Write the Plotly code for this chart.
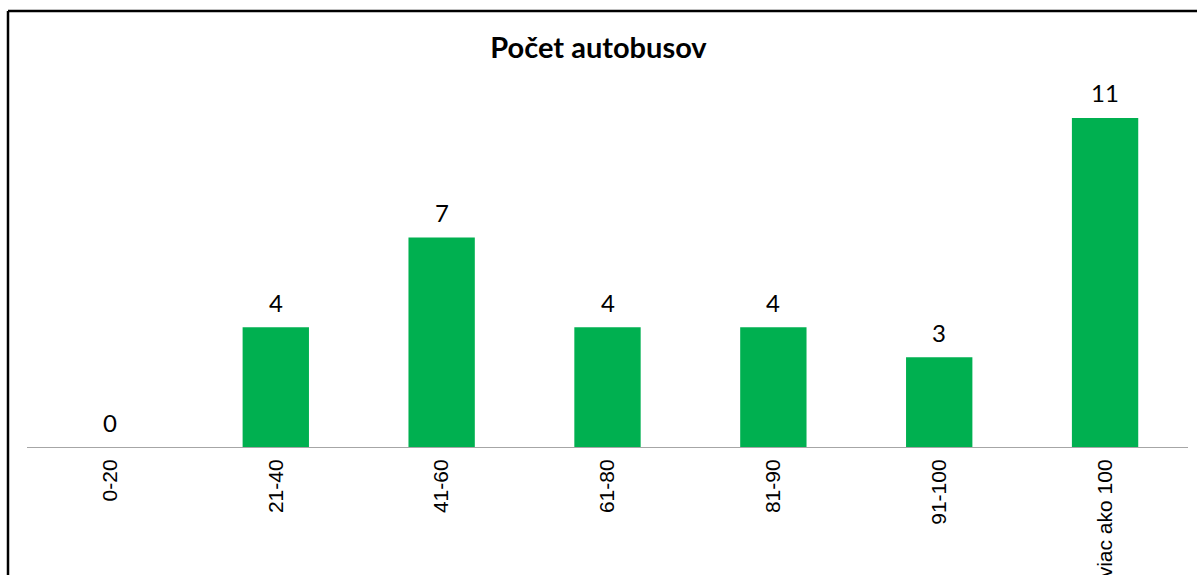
import plotly.graph_objects as go

categories = ["0-20", "21-40", "41-60", "61-80", "81-90", "91-100", "viac ako 100"]
values = [0, 4, 7, 4, 4, 3, 11]
title_text = "Počet autobusov"

W, H = 1197, 575
L, R, T, B = 27, 9, 88, 128
pw = W - L - R
ph = H - T - B

fig = go.Figure()
fig.add_trace(go.Bar(
    x=categories, y=values,
    marker=dict(color="#00B050", line=dict(width=0)),
    cliponaxis=False,
))

for c, v in zip(categories, values):
    fig.add_annotation(x=c, y=v, text=str(v), showarrow=False,
                       yanchor="middle", yshift=25,
                       font=dict(family="Lato, Carlito, sans-serif", size=24, color="#000000"))

fig.update_layout(
    width=W, height=H,
    margin=dict(l=L, r=R, t=T, b=B),
    paper_bgcolor="white", plot_bgcolor="white",
    bargap=0.6,
    showlegend=False,
    title=dict(text="<b>" + title_text + "</b>", x=0.5, xanchor="center",
               y=1 - 48 / H, yanchor="middle", yref="container",
               font=dict(family="Lato, Carlito, sans-serif", size=29, color="#000000")),
    xaxis=dict(tickangle=-90, showline=True, linecolor="#A6A6A6", linewidth=1,
               ticks="", showgrid=False, automargin=False, ticklabelstandoff=3,
               tickfont=dict(family="Liberation Sans, Arial, sans-serif", size=21, color="#000000")),
    yaxis=dict(range=[0, 12], visible=False, showgrid=False, zeroline=False),
)

# chart border (left and top visible)
bx = (8 - L) / pw
by = (T + ph - 11) / ph
fig.add_shape(type="line", xref="paper", yref="paper",
              x0=bx, x1=bx, y0=-(H - (T + ph)) / ph, y1=by,
              line=dict(color="#000000", width=2.5))
fig.add_shape(type="line", xref="paper", yref="paper",
              x0=bx, x1=(W - L) / pw, y0=by, y1=by,
              line=dict(color="#000000", width=2.5))

fig.write_html("out.html")
